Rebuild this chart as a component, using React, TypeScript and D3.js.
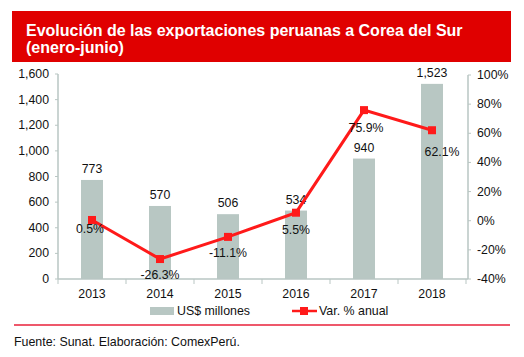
import React from "react";
import * as d3 from "d3";

const years = ["2013", "2014", "2015", "2016", "2017", "2018"];
const exportsUSD = [773, 570, 506, 534, 940, 1523];
const varPct = [0.5, -26.3, -11.1, 5.5, 75.9, 62.1];
const leftTicks = [0, 200, 400, 600, 800, 1000, 1200, 1400, 1600];
const rightTicks = [-40, -20, 0, 20, 40, 60, 80, 100];

const W = 524, H = 357;
const FONT = "Arial, 'Liberation Sans', sans-serif";
const AXIS = "#b9c6c3";
const BAR = "#b8c7c3";
const RED = "#ff1a1a";

export default function App() {
  const x = d3.scaleBand<string>().domain(years).range([58, 466]);
  const yL = d3.scaleLinear().domain([0, 1600]).range([279, 74]);
  const yR = d3.scaleLinear().domain([-40, 100]).range([279, 75]);
  const cx = (y: string) => (x(y) as number) + x.bandwidth() / 2;
  const barW = 22;
  const line = d3.line<number>().x((_, i) => cx(years[i])).y((d) => yR(d));
  const labelDy = [13, 20, 20, 21, 22, 26];
  const labelDx = [-2, 0, 0, 0, 2, 10];
  const fmt = d3.format(",");
  const pct = (v: number) => v.toFixed(1) + "%";

  return (
    <svg width={W} height={H} style={{ position: "absolute", left: 0, top: 0 }} fontFamily={FONT}>
      <rect x={0} y={0} width={W} height={H} fill="#fff" />
      <rect x={12} y={11} width={499} height={51} fill="#e00000" />
      <text x={26} y={35.5} fill="#fff" fontSize={16} fontWeight="bold">Evolución de las exportaciones peruanas a Corea del Sur</text>
      <text x={26} y={52.5} fill="#fff" fontSize={16} fontWeight="bold">(enero-junio)</text>

      {years.map((y, i) => (
        <g key={y}>
          <rect x={cx(y) - barW / 2} y={yL(exportsUSD[i])} width={barW} height={279 - yL(exportsUSD[i])} fill={BAR} />
          <text x={cx(y)} y={yL(exportsUSD[i]) - 7} textAnchor="middle" fontSize={12.3} fill="#111">{fmt(exportsUSD[i])}</text>
        </g>
      ))}

      <line x1={58} x2={58} y1={74} y2={279} stroke={AXIS} strokeWidth={1.5} />
      <line x1={468} x2={468} y1={75} y2={279} stroke={AXIS} strokeWidth={1.5} />
      <line x1={58} x2={468} y1={279} y2={279} stroke={AXIS} strokeWidth={1.5} />
      {leftTicks.map((t) => (
        <g key={"l" + t}>
          <line x1={55} x2={58} y1={yL(t)} y2={yL(t)} stroke={AXIS} />
          <text x={49} y={yL(t) + 4} textAnchor="end" fontSize={12.3} fill="#111">{fmt(t)}</text>
        </g>
      ))}
      {rightTicks.map((t) => (
        <g key={"r" + t}>
          <line x1={468} x2={471} y1={yR(t)} y2={yR(t)} stroke={AXIS} />
          <text x={477} y={yR(t) + 4} textAnchor="start" fontSize={12.3} fill="#111">{t + "%"}</text>
        </g>
      ))}
      {[...years.map((y) => x(y) as number), 466].map((v, i) => (
        <line key={"xt" + i} x1={v} x2={v} y1={279} y2={284} stroke={AXIS} />
      ))}
      {years.map((y) => (
        <text key={"xl" + y} x={cx(y)} y={298} textAnchor="middle" fontSize={12.3} fill="#111">{y}</text>
      ))}

      <path d={line(varPct) || ""} fill="none" stroke={RED} strokeWidth={3} />
      {varPct.map((v, i) => (
        <g key={"m" + i}>
          <rect x={cx(years[i]) - 4} y={yR(v) - 4} width={8} height={8} fill={RED} />
          <text x={cx(years[i]) + labelDx[i]} y={yR(v) + labelDy[i]} textAnchor="middle" fontSize={12.3} fill="#111">
            {pct(v)}
          </text>
        </g>
      ))}

      <rect x={150} y={307} width={24} height={8} fill={BAR} />
      <text x={177} y={315} fontSize={12.4} fill="#111">US$ millones</text>
      <line x1={292} x2={317} y1={311} y2={311} stroke={RED} strokeWidth={2.5} />
      <rect x={300} y={307} width={8} height={8} fill={RED} />
      <text x={319} y={315} fontSize={12.4} fill="#111">Var. % anual</text>

      <line x1={14} x2={510} y1={325} y2={325} stroke="#e8203a" strokeWidth={1.5} />
      <text x={14} y={346} fontSize={12.4} fill="#111">Fuente: Sunat. Elaboración: ComexPerú.</text>
    </svg>
  );
}
